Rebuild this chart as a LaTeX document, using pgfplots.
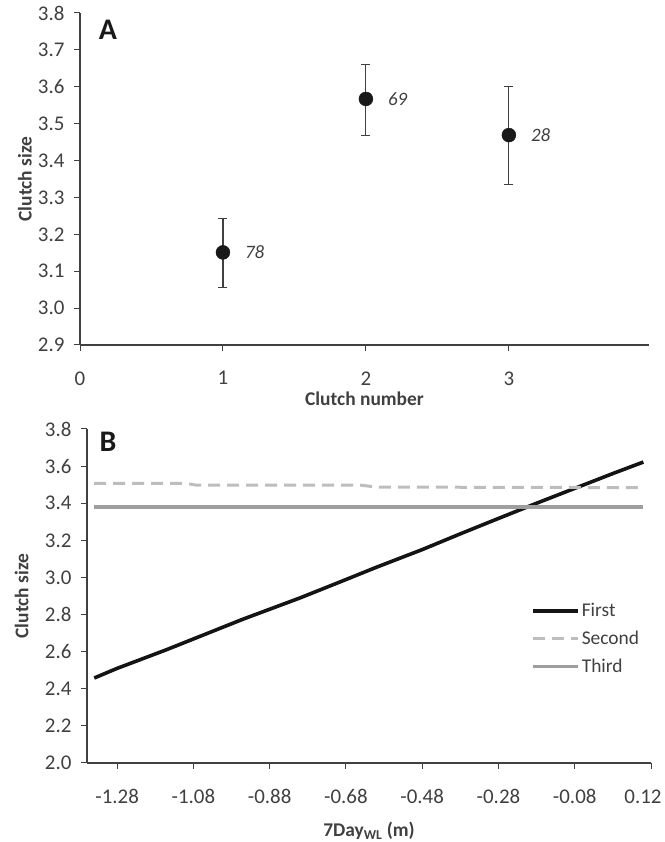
\documentclass[border=0pt]{standalone}
\usepackage{pgfplots}
\pgfplotsset{compat=1.18}
\usepackage{fontspec}
\setmainfont{Carlito}
\definecolor{axgray}{HTML}{404040}
\definecolor{secondgray}{HTML}{BDBDBD}
\definecolor{thirdgray}{HTML}{9E9E9E}
\pgfplotsset{
  panel/.style={
    scale only axis, anchor=south west,
    axis lines=left, axis line style={-, axgray, line width=1.1bp},
    tick style={axgray, line width=1bp}, tick align=outside, major tick length=6bp,
    /pgf/number format/assume math mode=true,
    tick label style={font=\fontsize{21}{23}\selectfont, text=axgray},
    label style={font=\bfseries\fontsize{19.5}{21}\selectfont, text=axgray},
    xticklabel style={yshift=-17bp},
    yticklabel style={xshift=-6bp},
  }
}
\begin{document}
\begin{tikzpicture}
\useasboundingbox (0,0) rectangle (665bp,842bp);
% Panel A
\begin{axis}[panel, at={(80bp,497bp)}, width=569bp, height=332bp,
    xmin=0, xmax=3.98, ymin=2.9, ymax=3.8,
    xtick={0,1,2,3}, ytick={2.9,3.0,...,3.81},
    yticklabel style={/pgf/number format/.cd, fixed, fixed zerofill, precision=1},
    xlabel={Clutch number}, ylabel={Clutch size},
    xlabel style={at={(axis description cs:0.5,0)}, anchor=center, yshift=-54bp},
    ylabel style={at={(axis description cs:-0.097,0.5)}, anchor=center}]
\addplot[only marks, mark=*, mark size=7bp, black!90,
    error bars/.cd, y dir=both, y explicit,
    error bar style={axgray, line width=1.1bp},
    error mark options={rotate=90, mark size=4.5bp, axgray, line width=1.1bp}]
  coordinates {
    (1,3.151) += (0,0.092) -= (0,0.096)
    (2,3.567) += (0,0.094) -= (0,0.100)
    (3,3.469) += (0,0.132) -= (0,0.133)
  };
\node[anchor=west, font=\itshape\fontsize{19}{21}\selectfont, text=axgray] at (axis cs:1.13,3.151) {78};
\node[anchor=west, font=\itshape\fontsize{19}{21}\selectfont, text=axgray] at (axis cs:2.13,3.567) {69};
\node[anchor=west, font=\itshape\fontsize{19}{21}\selectfont, text=axgray] at (axis cs:3.13,3.469) {28};
\end{axis}
\node[font=\bfseries\fontsize{30}{32}\selectfont, text=black!90] at (108bp,812bp) {A};
% Panel B
\begin{axis}[panel, at={(87bp,79bp)}, width=564bp, height=334bp,
    xmin=-1.359, xmax=0.12, ymin=2.0, ymax=3.8,
    xtick={-1.28,-1.08,-0.88,-0.68,-0.48,-0.28,-0.08,0.12},
    xticklabels={-1.28,-1.08,-0.88,-0.68,-0.48,-0.28,-0.08,\hspace*{-16bp}0.12},
    ytick={2.0,2.2,...,3.81},
    yticklabel style={/pgf/number format/.cd, fixed, fixed zerofill, precision=1},
    xlabel={7Day\textsubscript{WL} (m)}, ylabel={Clutch size},
    xlabel style={at={(axis description cs:0.5,0)}, anchor=center, yshift=-68bp},
    ylabel style={at={(axis description cs:-0.116,0.5)}, anchor=center},
    legend style={at={(axis description cs:0.782,0.49)}, anchor=north west,
      draw=none, fill=none, font=\fontsize{19.5}{21}\selectfont, text=axgray,
      row sep=9bp},
    legend cell align=left,
    legend image code/.code={\draw[#1] (0bp,0bp) -- (45bp,0bp);}]
\addplot[black!92, line width=3.6bp] coordinates {
  (-1.34,2.458) (-1.28,2.510) (-1.20,2.572) (-1.15,2.611) (-1.05,2.693)
  (-0.95,2.775) (-0.80,2.890) (-0.70,2.972) (-0.60,3.055) (-0.48,3.150)
  (-0.38,3.235) (-0.28,3.318) (-0.18,3.400) (-0.08,3.480) (0.02,3.560)
  (0.10,3.622)};
\addlegendentry{First}
\addplot[secondgray, line width=3bp, dash pattern=on 12bp off 7bp] coordinates {
  (-1.34,3.507) (-1.10,3.507) (-1.07,3.497) (-0.64,3.497) (-0.60,3.487)
  (0.10,3.484)};
\addlegendentry{Second}
\addplot[thirdgray, line width=3.3bp] coordinates {(-1.34,3.379) (0.10,3.379)};
\addlegendentry{Third}
\end{axis}
\node[font=\bfseries\fontsize{30}{32}\selectfont, text=black!90] at (108bp,400bp) {B};
\end{tikzpicture}
\end{document}
